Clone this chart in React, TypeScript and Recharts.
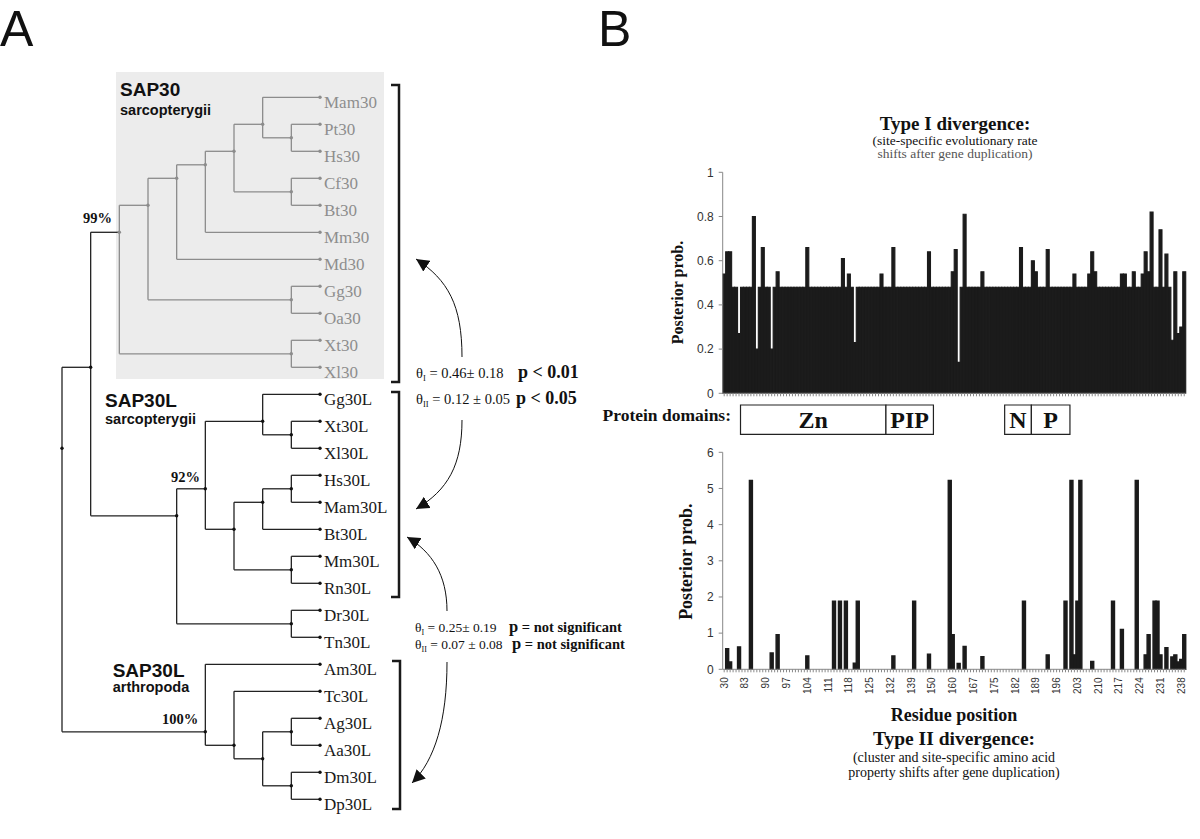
import {
  BarChart,
  Bar,
  XAxis,
  YAxis,
  ScatterChart,
  Scatter,
  ReferenceLine,
  ReferenceArea,
} from "recharts";

// residue numbers on the x axis (alignment positions, gaps skipped)
const residueRuns = [
  [30, 36],
  [83, 145],
  [150, 156],
  [160, 173],
  [175, 239],
];
const labelledResidues = [
  30, 83, 90, 97, 104, 111, 118, 125, 132, 139, 150, 160, 167, 175, 182, 189,
  196, 203, 210, 217, 224, 231, 238,
];

// Type I divergence, posterior probability per site
const typeOne = [
  0.54, 0.64, 0.64, 0.48, 0.48, 0.27, 0.48, 0.48, 0.48, 0.48,
  0.8, 0.2, 0.48, 0.66, 0.48, 0.48, 0.2, 0.48, 0.55, 0.48,
  0.48, 0.48, 0.48, 0.48, 0.48, 0.48, 0.48, 0.48, 0.66, 0.48,
  0.48, 0.48, 0.48, 0.48, 0.48, 0.48, 0.48, 0.48, 0.48, 0.48,
  0.61, 0.48, 0.54, 0.48, 0.23, 0.48, 0.48, 0.48, 0.48, 0.48,
  0.48, 0.48, 0.48, 0.54, 0.48, 0.48, 0.48, 0.66, 0.48, 0.48,
  0.48, 0.48, 0.48, 0.48, 0.48, 0.48, 0.48, 0.48, 0.48, 0.64,
  0.48, 0.48, 0.48, 0.48, 0.48, 0.48, 0.48, 0.55, 0.65, 0.14,
  0.48, 0.81, 0.48, 0.48, 0.48, 0.48, 0.48, 0.55, 0.48, 0.48,
  0.48, 0.48, 0.48, 0.48, 0.48, 0.48, 0.48, 0.48, 0.48, 0.48,
  0.66, 0.48, 0.48, 0.48, 0.6, 0.55, 0.48, 0.48, 0.48, 0.65,
  0.48, 0.48, 0.48, 0.48, 0.48, 0.48, 0.48, 0.48, 0.54, 0.48,
  0.48, 0.48, 0.48, 0.54, 0.64, 0.55, 0.48, 0.48, 0.48, 0.48,
  0.48, 0.48, 0.48, 0.48, 0.54, 0.54, 0.48, 0.48, 0.55, 0.48,
  0.48, 0.54, 0.64, 0.55, 0.82, 0.48, 0.48, 0.74, 0.48, 0.63,
  0.48, 0.24, 0.55, 0.27, 0.3, 0.55,
];

// Type II divergence, posterior probability per site
const typeTwo = [
  0, 0.57, 0.2, 0, 0, 0.62, 0, 0, 0, 5.22,
  0, 0, 0, 0, 0, 0, 0.45, 0, 0.96, 0,
  0, 0, 0, 0, 0, 0, 0, 0, 0.37, 0,
  0, 0, 0, 0, 0, 0, 0, 1.88, 0, 1.88,
  0, 1.88, 0, 0, 0.17, 1.88, 0, 0, 0, 0,
  0, 0, 0, 0, 0, 0, 0, 0.37, 0, 0,
  0, 0, 0, 0, 1.88, 0, 0, 0, 0, 0.42,
  0, 0, 0, 0, 0, 0, 5.22, 0.96, 0, 0.16,
  0, 0.63, 0, 0, 0, 0, 0, 0.35, 0, 0,
  0, 0, 0, 0, 0, 0, 0, 0, 0, 0,
  0, 1.88, 0, 0, 0, 0, 0, 0, 0, 0.4,
  0, 0, 0, 0, 0, 1.88, 0, 5.22, 0.4, 1.88,
  5.22, 0, 0, 0, 0.22, 0, 0, 0, 0, 0,
  0, 1.88, 0, 0, 1.1, 0, 0, 0, 0, 5.22,
  0, 0, 0.4, 0.96, 0, 1.88, 1.88, 0.4, 0, 0.6,
  0, 0.34, 0.4, 0.2, 0.27, 0.96,
];

// protein domains (first / last residue)
const domainNames = ["Zn", "PIP", "N", "P"];
const domainStart = [36, 131, 179, 188];
const domainEnd = [130, 150, 187, 200];

// tree: leaves top to bottom, internal nodes as [id, depth, children]
const leafNames = [
  "Mam30", "Pt30", "Hs30", "Cf30", "Bt30", "Mm30", "Md30", "Gg30", "Oa30",
  "Xt30", "Xl30", "Gg30L", "Xt30L", "Xl30L", "Hs30L", "Mam30L", "Bt30L",
  "Mm30L", "Rn30L", "Dr30L", "Tn30L", "Am30L", "Tc30L", "Ag30L", "Aa30L",
  "Dm30L", "Dp30L",
];
const leafDepth = 9;
const treeNodes: [string, number, string[]][] = [
  ["root", 0, ["vert", "arth"]],
  ["vert", 1, ["sap30", "sarcL"]],
  ["sap30", 2, ["s3", "XtXl"]],
  ["s3", 3, ["s4", "GgOa"]],
  ["s4", 4, ["s5", "Md30"]],
  ["s5", 5, ["s6", "Mm30"]],
  ["s6", 6, ["s7", "CfBt"]],
  ["s7", 7, ["Mam30", "PtHs"]],
  ["PtHs", 8, ["Pt30", "Hs30"]],
  ["CfBt", 8, ["Cf30", "Bt30"]],
  ["GgOa", 8, ["Gg30", "Oa30"]],
  ["XtXl", 8, ["Xt30", "Xl30"]],
  ["sarcL", 4, ["tetL", "DrTn"]],
  ["tetL", 5, ["amphL", "mamL"]],
  ["amphL", 7, ["Gg30L", "XtXlL"]],
  ["XtXlL", 8, ["Xt30L", "Xl30L"]],
  ["mamL", 6, ["hmbL", "MmRn"]],
  ["hmbL", 7, ["HsMam", "Bt30L"]],
  ["HsMam", 8, ["Hs30L", "Mam30L"]],
  ["MmRn", 8, ["Mm30L", "Rn30L"]],
  ["DrTn", 8, ["Dr30L", "Tn30L"]],
  ["arth", 5, ["Am30L", "TcD"]],
  ["TcD", 6, ["Tc30L", "dipt"]],
  ["dipt", 7, ["AgAa", "DmDp"]],
  ["AgAa", 8, ["Ag30L", "Aa30L"]],
  ["DmDp", 8, ["Dm30L", "Dp30L"]],
];

const SERIF = "'Liberation Serif', 'Times New Roman', serif";
const SANS = "'Liberation Sans', Arial, sans-serif";
const GREY = "#8c8c8c";
const INK = "#222";

const residues = residueRuns.flatMap(([a, b]) => {
  const out: number[] = [];
  for (let r = a; r <= b; r++) out.push(r);
  return out;
});
const rows = residues.map((pos, i) => ({
  pos,
  typeOne: typeOne[i],
  typeTwo: typeTwo[i],
}));

// tree layout
const leafIdx = new Map(leafNames.map((n, i) => [n, i]));
const nodeById = new Map(treeNodes.map((n) => [n[0], n]));
const leavesUnder = (id: string): number[] =>
  leafIdx.has(id)
    ? [leafIdx.get(id)!]
    : nodeById.get(id)![2].flatMap(leavesUnder);
const pointOf = (id: string) => {
  if (leafIdx.has(id)) return { x: leafDepth, y: leafIdx.get(id)! };
  const ls = leavesUnder(id);
  return {
    x: nodeById.get(id)![1],
    y: ls.reduce((a, b) => a + b, 0) / ls.length,
  };
};
const greyIds = new Set<string>();
const markGrey = (id: string) => {
  greyIds.add(id);
  nodeById.get(id)?.[2].forEach(markGrey);
};
markGrey("sap30");

const edges: { x1: number; y1: number; x2: number; y2: number; grey: boolean }[] = [];
treeNodes.forEach(([id, , kids]) => {
  const p = pointOf(id);
  const ys = kids.map((k) => pointOf(k).y);
  const grey = greyIds.has(id);
  edges.push({ x1: p.x, y1: Math.min(...ys), x2: p.x, y2: Math.max(...ys), grey });
  kids.forEach((k) => {
    const c = pointOf(k);
    edges.push({ x1: p.x, y1: c.y, x2: c.x, y2: c.y, grey });
  });
});
const treePoints = [
  ...treeNodes.map(([id]) => ({ ...pointOf(id), grey: greyIds.has(id), label: "" })),
  ...leafNames.map((n) => ({ ...pointOf(n), grey: greyIds.has(n), label: n })),
];

const TreePoint = (props: any) => {
  const { cx, cy, payload } = props;
  return (
    <g>
      <circle cx={cx} cy={cy} r={1.7} fill={payload.grey ? GREY : "#111"} />
      {payload.label ? (
        <text
          x={cx + 4}
          y={cy + 11}
          fontFamily={SERIF}
          fontSize={17}
          fill={payload.grey ? "#8e8e8e" : "#1a1a1a"}
        >
          {payload.label}
        </text>
      ) : null}
    </g>
  );
};

const residueTick = (props: any) => {
  const { x, y, payload } = props;
  if (!labelledResidues.includes(payload.value)) return <g />;
  const ty = y + 3;
  return (
    <text
      x={x}
      y={ty}
      transform={`rotate(-90, ${x}, ${ty})`}
      textAnchor="end"
      dy="0.35em"
      fontSize={10}
      fill="#333"
      fontFamily={SANS}
    >
      {payload.value}
    </text>
  );
};

const yTick = { fontSize: 12, fill: "#333", fontFamily: SANS };

const App = () => {
  return (
    <div
      style={{
        position: "absolute",
        left: 0,
        top: 0,
        width: 1200,
        height: 839,
        background: "#fff",
        overflow: "hidden",
      }}
    >
      {/* grey SAP30 box */}
      <div
        style={{
          position: "absolute",
          left: 116,
          top: 72,
          width: 268,
          height: 307,
          background: "#ececec",
        }}
      />

      {/* phylogenetic tree */}
      <div style={{ position: "absolute", left: 0, top: 0 }}>
        <ScatterChart
          width={400}
          height={839}
          margin={{ top: 97.3, right: 80, bottom: 39.7, left: 62 }}
        >
          <XAxis type="number" dataKey="x" domain={[0, 9]} hide />
          <YAxis type="number" dataKey="y" domain={[0, 26]} reversed hide />
          {edges.map((e, i) => (
            <ReferenceLine
              key={i}
              segment={[
                { x: e.x1, y: e.y1 },
                { x: e.x2, y: e.y2 },
              ]}
              stroke={e.grey ? GREY : INK}
              strokeWidth={1.3}
            />
          ))}
          <Scatter data={treePoints} shape={TreePoint} isAnimationActive={false} />
        </ScatterChart>
      </div>

      {/* Type I divergence */}
      <div style={{ position: "absolute", left: 640, top: 150 }}>
        <BarChart
          width={560}
          height={253.3}
          data={rows}
          margin={{ top: 22.3, right: 14.3, bottom: 0, left: 22.7 }}
          barCategoryGap={0}
          barGap={0}
        >
          <XAxis
            dataKey="pos"
            interval={0}
            height={10}
            tick={() => <g />}
            tickSize={3}
            stroke="#888"
          />
          <YAxis
            width={60}
            domain={[0, 1]}
            ticks={[0, 0.2, 0.4, 0.6, 0.8, 1]}
            tickSize={4}
            tickMargin={5}
            stroke="#888"
            tick={yTick}
          />
          <Bar
            dataKey="typeOne"
            fill="#1b1b1b"
            stroke="#1b1b1b"
            strokeWidth={1.1}
            isAnimationActive={false}
          />
        </BarChart>
      </div>

      {/* protein domains, on the same residue axis */}
      <div style={{ position: "absolute", left: 640, top: 400 }}>
        <BarChart
          width={560}
          height={40}
          data={rows}
          margin={{ top: 5, right: 14.3, bottom: 5.7, left: 82.7 }}
          barCategoryGap={0}
          barGap={0}
        >
          <XAxis dataKey="pos" hide />
          <YAxis hide domain={[0, 1]} />
          <Bar dataKey="typeOne" fill="none" isAnimationActive={false} />
          {domainNames.map((name, i) => (
            <ReferenceArea
              key={name}
              x1={domainStart[i]}
              x2={domainEnd[i]}
              y1={0}
              y2={1}
              fill="#fff"
              fillOpacity={1}
              stroke="#222"
              strokeWidth={1.2}
              ifOverflow="visible"
              label={{
                value: name,
                position: "center",
                fontSize: 24,
                fontWeight: 700,
                fontFamily: SERIF,
                fill: "#111",
              }}
            />
          ))}
        </BarChart>
      </div>

      {/* Type II divergence */}
      <div style={{ position: "absolute", left: 640, top: 440 }}>
        <BarChart
          width={560}
          height={269.3}
          data={rows}
          margin={{ top: 12.3, right: 14.3, bottom: 0, left: 22.7 }}
          barCategoryGap={0}
          barGap={0}
        >
          <XAxis
            dataKey="pos"
            interval={0}
            height={40}
            tick={residueTick}
            tickSize={3}
            stroke="#888"
          />
          <YAxis
            width={60}
            domain={[0, 6]}
            ticks={[0, 1, 2, 3, 4, 5, 6]}
            tickSize={4}
            tickMargin={5}
            stroke="#888"
            tick={yTick}
          />
          <Bar
            dataKey="typeTwo"
            fill="#1b1b1b"
            stroke="#1b1b1b"
            strokeWidth={1.4}
            isAnimationActive={false}
          />
        </BarChart>
      </div>

      {/* text and annotations */}
      <svg
        width={1200}
        height={839}
        style={{ position: "absolute", left: 0, top: 0, pointerEvents: "none" }}
      >
        <defs>
          <marker
            id="head"
            viewBox="0 0 12 12"
            refX={12}
            refY={6}
            markerWidth={13}
            markerHeight={13}
            markerUnits="userSpaceOnUse"
            orient="auto"
          >
            <path d="M0,0 L12,6 L0,12 z" fill="#111" />
          </marker>
        </defs>

        <text x={0} y={46} fontFamily={SANS} fontSize={50} fill="#111">A</text>
        <text x={598} y={46} fontFamily={SANS} fontSize={50} fill="#111">B</text>

        {/* clade names */}
        <text x={120} y={96} fontFamily={SANS} fontSize={19} fontWeight="bold" fill="#111">SAP30</text>
        <text x={120} y={115} fontFamily={SANS} fontSize={14.5} fontWeight="bold" fill="#111">sarcopterygii</text>
        <text x={105} y={407} fontFamily={SANS} fontSize={19} fontWeight="bold" fill="#111">SAP30L</text>
        <text x={105} y={424} fontFamily={SANS} fontSize={14.5} fontWeight="bold" fill="#111">sarcopterygii</text>
        <text x={112.7} y={677} fontFamily={SANS} fontSize={19} fontWeight="bold" fill="#111">SAP30L</text>
        <text x={112.7} y={692} fontFamily={SANS} fontSize={14.5} fontWeight="bold" fill="#111">arthropoda</text>

        {/* support values */}
        <text x={83} y={222.7} fontFamily={SERIF} fontSize={14.5} fontWeight="bold" fill="#111">99%</text>
        <text x={171} y={481.7} fontFamily={SERIF} fontSize={14.5} fontWeight="bold" fill="#111">92%</text>
        <text x={162} y={724} fontFamily={SERIF} fontSize={14.5} fontWeight="bold" fill="#111">100%</text>

        {/* brackets */}
        <path d="M391,85 H399 V382 H391" fill="none" stroke="#1a1a1a" strokeWidth={2.5} />
        <path d="M391,392 H399 V597 H391" fill="none" stroke="#1a1a1a" strokeWidth={2.5} />
        <path d="M392,661 H400 V809 H392" fill="none" stroke="#1a1a1a" strokeWidth={2.5} />

        {/* arrows */}
        <path d="M462,357 C462,305 448,280 416,259" fill="none" stroke="#111" strokeWidth={1} markerEnd="url(#head)" />
        <path d="M462,420 C462,465 448,490 416,509" fill="none" stroke="#111" strokeWidth={1} markerEnd="url(#head)" />
        <path d="M447,611 C447,575 432,552 407,537" fill="none" stroke="#111" strokeWidth={1} markerEnd="url(#head)" />
        <path d="M447,662 C447,720 435,760 412,783" fill="none" stroke="#111" strokeWidth={1} markerEnd="url(#head)" />

        {/* divergence coefficients */}
        <text x={416} y={378} fontFamily={SERIF} fontSize={14.5} fill="#111">
          θ<tspan fontSize={8.5} dy={3}>I</tspan><tspan dy={-3}>{" = 0.46± 0.18"}</tspan>
          <tspan x={518} fontSize={18} fontWeight="bold">{"p < 0.01"}</tspan>
        </text>
        <text x={416} y={404} fontFamily={SERIF} fontSize={14.5} fill="#111">
          θ<tspan fontSize={8.5} dy={3}>II</tspan><tspan dy={-3}>{" = 0.12 ± 0.05"}</tspan>
          <tspan x={516} fontSize={18} fontWeight="bold">{"p < 0.05"}</tspan>
        </text>
        <text x={415} y={632} fontFamily={SERIF} fontSize={13.5} fill="#111">
          θ<tspan fontSize={8} dy={3}>I</tspan><tspan dy={-3}>{" = 0.25± 0.19"}</tspan>
          <tspan x={509} fontSize={16.5} fontWeight="bold">p</tspan>
          <tspan fontWeight="bold" fontSize={14.5}>{" = not significant"}</tspan>
        </text>
        <text x={415} y={649} fontFamily={SERIF} fontSize={13.5} fill="#111">
          θ<tspan fontSize={8} dy={3}>II</tspan><tspan dy={-3}>{" = 0.07 ± 0.08"}</tspan>
          <tspan x={512} fontSize={16.5} fontWeight="bold">p</tspan>
          <tspan fontWeight="bold" fontSize={14.5}>{" = not significant"}</tspan>
        </text>

        {/* panel B titles */}
        <text x={955} y={130} textAnchor="middle" fontFamily={SERIF} fontSize={19} fontWeight="bold" fill="#111">Type I divergence:</text>
        <text x={955} y={145} textAnchor="middle" fontFamily={SERIF} fontSize={13.5} fill="#111">(site-specific evolutionary rate</text>
        <text x={955} y={158} textAnchor="middle" fontFamily={SERIF} fontSize={13.5} fill="#555">shifts after gene duplication)</text>

        <text x={683} y={292.5} transform="rotate(-90, 683, 292.5)" textAnchor="middle" fontFamily={SERIF} fontSize={16} fontWeight="bold" fill="#111">Posterior prob.</text>
        <text x={692.5} y={561.7} transform="rotate(-90, 692.5, 561.7)" textAnchor="middle" fontFamily={SERIF} fontSize={18} fontWeight="bold" fill="#111">Posterior prob.</text>

        <text x={731} y={421} textAnchor="end" fontFamily={SERIF} fontSize={17.5} fontWeight="bold" fill="#111">Protein domains:</text>

        <text x={954} y={721} textAnchor="middle" fontFamily={SERIF} fontSize={18} fontWeight="bold" fill="#111">Residue position</text>
        <text x={954} y={745} textAnchor="middle" fontFamily={SERIF} fontSize={19.5} fontWeight="bold" fill="#111">Type II divergence:</text>
        <text x={954} y={761.5} textAnchor="middle" fontFamily={SERIF} fontSize={14} fill="#111">(cluster and site-specific amino acid</text>
        <text x={954} y={776.5} textAnchor="middle" fontFamily={SERIF} fontSize={14} fill="#111">property shifts after gene duplication)</text>
      </svg>
    </div>
  );
};

export default App;
